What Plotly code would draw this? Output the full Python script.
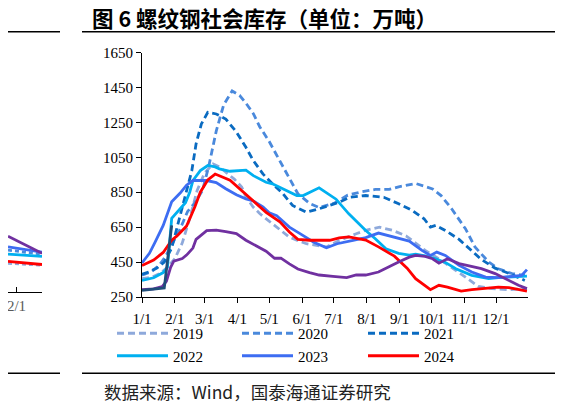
import pandas as pd
import plotly.graph_objects as go

# weekly rebar social inventory (万吨); dates are MM-DD
YEAR = "2023-"

d2019 = ["01-01", "01-11", "01-18", "01-25", "02-01", "02-08", "02-15", "02-22", "03-01", "03-09",
         "03-15", "03-22", "03-29", "04-05", "04-09", "04-16", "04-22", "05-04", "05-12", "05-20",
         "05-27", "06-05", "06-24", "07-06", "07-22", "07-31", "08-13", "08-25", "09-07", "09-13",
         "09-25", "10-08", "10-20", "11-02", "11-14", "11-27", "12-13", "12-30"]
v2019 = [355, 365, 385, 420, 470, 560, 700, 860, 960, 1012,
         995, 960, 925, 880, 824, 764, 728, 669, 630, 593,
         575, 555, 536, 574, 612, 632, 650, 632, 600, 574,
         517, 469, 421, 364, 311, 298, 292, 298]

d2020 = ["01-01", "01-10", "01-17", "01-23", "02-06", "02-13", "02-20", "02-27", "03-05", "03-12",
         "03-19", "03-27", "04-03", "04-09", "04-16", "04-22", "05-01", "05-11", "05-20", "05-28",
         "06-08", "06-17", "07-01", "07-14", "07-27", "08-09", "08-22", "08-31", "09-16", "10-02",
         "10-10", "10-20", "11-02", "11-11", "11-24", "12-03", "12-16", "12-28"]
v2020 = [375, 395, 430, 480, 640, 740, 790, 860, 1000, 1200,
         1350, 1430, 1405, 1360, 1300, 1225, 1140, 1030, 930, 841,
         786, 762, 786, 833, 852, 866, 866, 881, 900, 869,
         831, 755, 641, 536, 450, 412, 384, 374]

d2021 = ["01-01", "01-08", "01-15", "01-22", "01-29", "02-05", "02-12", "02-17", "02-21", "02-26",
         "03-04", "03-12", "03-21", "03-31", "04-09", "04-16", "04-25", "05-04", "05-14", "05-23",
         "06-05", "06-17", "07-06", "07-16", "07-31", "08-17", "08-31", "09-13", "09-24", "09-30",
         "10-05", "10-14", "10-27", "11-07", "11-17", "11-30", "12-13", "12-28"]
v2021 = [380, 395, 415, 450, 530, 690, 860, 974, 1127, 1241,
         1307, 1298, 1269, 1195, 1107, 1031, 955, 898, 841, 774,
         736, 755, 793, 821, 831, 821, 784, 745, 698, 650,
         660, 631, 580, 520, 465, 415, 385, 345]

d2022 = ["01-01", "01-12", "01-21", "01-25", "01-29", "02-03", "02-11", "02-15", "02-18", "02-25",
         "03-04", "03-11", "03-15", "03-25", "04-03", "04-09", "04-16", "04-28", "05-04", "05-14",
         "05-27", "06-02", "06-17", "07-03", "07-15", "07-31", "08-09", "08-19", "08-31", "09-10",
         "09-16", "09-25", "10-05", "10-14", "10-24", "11-08", "11-24", "12-03", "12-16", "12-30"]
v2022 = [345, 360, 390, 420, 700, 735, 790, 850, 917, 974,
         1003, 995, 984, 970, 974, 976, 945, 907, 898, 869,
         831, 831, 875, 810, 726, 631, 584, 526, 500, 490,
         495, 485, 469, 448, 412, 374, 355, 361, 364, 370]

d2023 = ["01-01", "01-08", "01-13", "01-21", "01-29", "02-06", "02-12", "02-18", "03-03", "03-12",
         "03-21", "03-31", "04-09", "04-16", "04-25", "05-01", "05-08", "05-20", "05-30", "06-05",
         "06-12", "06-24", "07-04", "07-19", "07-31", "08-12", "08-28", "09-10", "09-22", "09-30",
         "10-06", "10-14", "10-27", "11-08", "11-21", "12-03", "12-16", "12-25", "12-30"]
v2023 = [445, 500, 560, 660, 795, 845, 890, 917, 917, 905,
         870, 835, 812, 800, 766, 732, 715, 650, 613, 590,
         564, 532, 555, 574, 590, 616, 593, 570, 517, 488,
         507, 488, 431, 393, 364, 361, 368, 374, 407]

d2024 = ["01-01", "01-12", "01-21", "01-29", "02-03", "02-12", "02-20", "02-25", "03-04", "03-11",
         "03-25", "04-05", "04-16", "04-28", "05-11", "05-20", "05-28", "06-08", "06-27", "07-06",
         "07-15", "07-31", "08-12", "08-27", "09-08", "09-16", "09-30", "10-08", "10-16", "10-29",
         "11-08", "11-21", "12-03", "12-13", "12-30"]
v2024 = [430, 462, 505, 575, 600, 656, 768, 850, 920, 954,
         919, 860, 800, 735, 680, 622, 580, 575, 575, 589,
         594, 576, 537, 484, 415, 355, 292, 317, 307, 284,
         292, 298, 307, 304, 284]

# 2025 and 2026 are drawn but not named in the legend
d2025 = ["01-01", "01-12", "01-20", "01-24", "01-28", "01-31", "02-08", "02-12", "02-18", "02-21",
         "03-03", "03-12", "03-21", "03-31", "04-09", "04-18", "04-28", "05-06", "05-12", "05-20",
         "05-28", "06-08", "06-17", "06-30", "07-13", "07-22", "07-31", "08-12", "08-22", "08-31",
         "09-10", "09-16", "09-25", "10-02", "10-08", "10-16", "10-27", "11-08", "11-17", "11-30",
         "12-13", "12-22", "12-30"]
v2025 = [292, 297, 310, 340, 420, 455, 470, 490, 530, 580,
         630, 633, 625, 613, 575, 545, 512, 472, 473, 440,
         410, 390, 376, 368, 361, 376, 376, 393, 425, 450,
         478, 488, 482, 469, 444, 469, 441, 425, 412, 384,
         345, 317, 298]

d2026 = ["01-01", "01-08", "01-15", "01-22", "01-29"]
v2026 = [288, 292, 297, 302, 660]

# edge of the neighbouring chart that shows at the left of the page
left_dates = ["01-23", "02-28"]
left_purple = [575, 475]
left_blue = [513, 481]
left_dash = [493, 470]
left_cyan = [470, 457]
left_red = [428, 409]
left_light = [416, 405]

month_labels = ["1/1", "2/1", "3/1", "4/1", "5/1", "6/1", "7/1", "8/1", "9/1", "10/1", "11/1", "12/1"]
y_ticks = [250, 450, 650, 850, 1050, 1250, 1450, 1650]

W, H = 563, 406
OFF = 8  # the html page puts the figure 8 px in from the top-left corner


def dates(days):
    return pd.to_datetime([YEAR + d for d in days])


def px(x):
    return max(x - OFF, 0) / W


def py(y):
    return (H - (y - OFF)) / H


serif = "Liberation Serif"
cjk = "Noto Sans CJK SC"

# (name, dates, values, colour, dash, legend column)
series = [
    ("2019", d2019, v2019, "#8EA9DB", "7px,4px", "legend"),
    ("2020", d2020, v2020, "#4A89DC", "7px,4px", "legend2"),
    ("2021", d2021, v2021, "#0A6BC1", "7px,4px", "legend3"),
    ("2022", d2022, v2022, "#00B0F0", "solid", "legend"),
    ("2023", d2023, v2023, "#3D6DF2", "solid", "legend2"),
    ("2024", d2024, v2024, "#FF0000", "solid", "legend3"),
    ("2025", d2025, v2025, "#7030A0", "solid", None),
    ("2026", d2026, v2026, "#1F4E79", "solid", None),
]

fig = go.Figure()
for name, dd, vv, color, dash, leg in series:
    fig.add_trace(go.Scatter(x=dates(dd), y=vv, name=name, mode="lines",
                             line=dict(color=color, width=2.8, dash=dash),
                             showlegend=leg is not None, legend=leg or "legend"))

left = [(left_light, "#8EA9DB", "4px,3px"), (left_dash, "#4A89DC", "4px,3px"),
        (left_cyan, "#00B0F0", "solid"), (left_blue, "#3D6DF2", "solid"),
        (left_red, "#FF0000", "solid"), (left_purple, "#7030A0", "solid")]
for vv, color, dash in left:
    fig.add_trace(go.Scatter(x=dates(left_dates), y=vv, mode="lines", showlegend=False,
                             line=dict(color=color, width=2.8, dash=dash),
                             xaxis="x2", yaxis="y2"))

tick_font = dict(family=serif, size=15, color="black")
leg_font = dict(family=serif, size=15, color="black")


def legend_at(x):
    return dict(orientation="v", x=px(x), y=py(317), xanchor="left", yanchor="top",
                font=leg_font, bgcolor="rgba(0,0,0,0)", traceorder="normal",
                itemwidth=51)


fig.update_layout(
    width=W, height=H,
    margin=dict(l=0, r=0, t=0, b=0, autoexpand=False),
    paper_bgcolor="white", plot_bgcolor="white",
    xaxis=dict(domain=[px(142), px(528)], type="date",
               range=[YEAR + "01-01", YEAR + "12-31"],
               tickvals=pd.date_range(YEAR + "01-01", periods=12, freq="MS"),
               ticktext=month_labels, ticks="outside", ticklen=5, tickcolor="black",
               showline=True, linecolor="black", linewidth=1, showgrid=False,
               zeroline=False, tickfont=tick_font, ticklabelstandoff=3),
    yaxis=dict(domain=[py(297), py(52.5)], range=[250, 1650],
               tickvals=y_ticks, ticks="outside", ticklen=5, tickcolor="black",
               showline=True, linecolor="black", linewidth=1, showgrid=False,
               zeroline=False, tickfont=tick_font),
    xaxis2=dict(domain=[px(5), px(42)], type="date", anchor="y2",
                range=[YEAR + "01-23", YEAR + "02-28"],
                tickvals=[YEAR + "02-01"], ticktext=["2/1"], ticks="inside", ticklen=5,
                tickcolor="black", showline=True, linecolor="black", linewidth=1,
                showgrid=False, zeroline=False, ticklabeloverflow="allow",
                tickfont=dict(family=serif, size=15, color="#595959")),
    yaxis2=dict(domain=[py(291.7), py(52.5)], range=[250, 1650], anchor="x2",
                visible=False),
    legend=legend_at(112),
    legend2=legend_at(237),
    legend3=legend_at(363),
)

fig.add_annotation(text="<b>图 6 螺纹钢社会库存（单位：万吨）</b>", xref="paper", yref="paper",
                   x=px(90), y=py(17), xanchor="left", yanchor="middle", showarrow=False,
                   font=dict(family=cjk, size=21.5, color="black"))
fig.add_annotation(text="数据来源：Wind，国泰海通证券研究", xref="paper", yref="paper",
                   x=px(102), y=py(391), xanchor="left", yanchor="middle", showarrow=False,
                   font=dict(family=cjk, size=17.5, color="#222222"))

# rules above and below the chart
for y in [31.7, 373.3]:
    fig.add_shape(type="line", xref="paper", yref="paper", x0=px(82), x1=1,
                  y0=py(y), y1=py(y), line=dict(color="black", width=1.5))
    fig.add_shape(type="line", xref="paper", yref="paper", x0=px(5), x1=px(60),
                  y0=py(y), y1=py(y), line=dict(color="black", width=1.5))

fig.write_html("out.html")
